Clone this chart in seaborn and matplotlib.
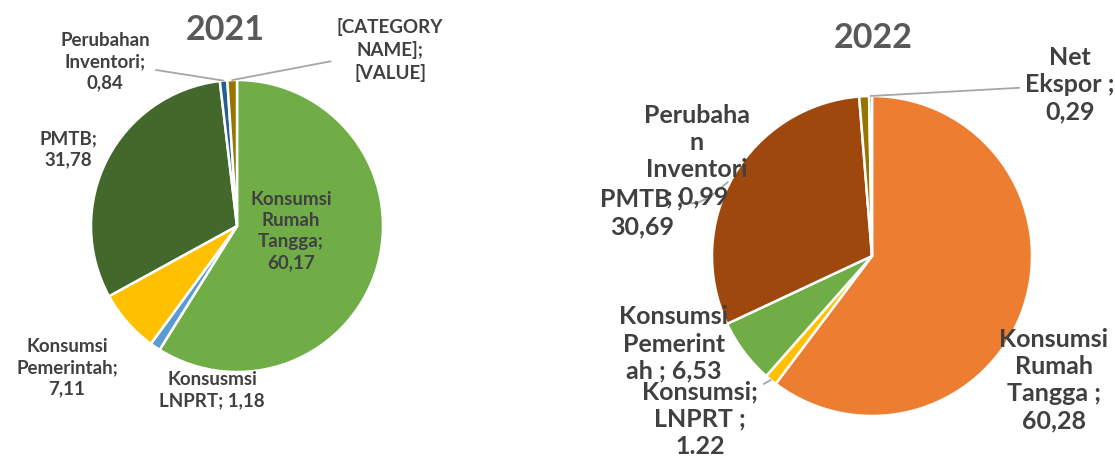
import numpy as np
import matplotlib
matplotlib.use("Agg")
import matplotlib.pyplot as plt
import seaborn as sns

# data
kategori = ["Konsumsi Rumah Tangga", "Konsumsi LNPRT", "Konsumsi Pemerintah",
            "PMTB", "Perubahan Inventori", "Net Ekspor"]
nilai_2021 = [60.17, 1.18, 7.11, 31.78, 0.84, 1.08]
nilai_2022 = [60.28, 1.22, 6.53, 30.69, 0.99, 0.29]

label_2021 = ["Konsumsi\nRumah\nTangga;\n60,17", "Konsusmsi\nLNPRT; 1,18",
              "Konsumsi\nPemerintah;\n7,11", "PMTB;\n31,78",
              "Perubahan\nInventori;\n0,84", "[CATEGORY\nNAME];\n[VALUE]"]
label_2022 = ["Konsumsi\nRumah\nTangga ;\n60,28", "Konsumsi;\nLNPRT ;\n1.22",
              "Konsumsi\nPemerint\nah ; 6,53", "PMTB ;\n30,69",
              "Perubaha\nn\nInventori\n; 0,99", "Net\nEkspor ;\n0,29"]

warna_2021 = ["#70AD47", "#5B9BD5", "#FFC000", "#43682B", "#255E91", "#997300"]
warna_2022 = ["#ED7D31", "#FFC000", "#70AD47", "#9E480E", "#997300", "#43682B"]

sns.set_theme(style="white")
plt.rcParams["font.family"] = ["Lato", "DejaVu Sans"]

W, H = 1115, 458
fig = plt.figure(figsize=(W / 100, H / 100), dpi=100)
ax = fig.add_axes([0, 0, 1, 1])

TEXT = "#404040"
LEADER = "#A6A6A6"


def draw_pie(values, colors, labels, center, radius, label_pos, leaders, fs, ls):
    wedges, _ = ax.pie(values, colors=colors, startangle=90, counterclock=False,
                       center=center, radius=radius,
                       wedgeprops=dict(edgecolor="white", linewidth=1.8))
    for i, (w, lab) in enumerate(zip(wedges, labels)):
        tx, ty = label_pos[i]
        if i in leaders:
            ang = np.deg2rad((w.theta1 + w.theta2) / 2)
            px = center[0] + radius * np.cos(ang)
            py = center[1] + radius * np.sin(ang)
            ax.annotate(lab, xy=(px, py), xytext=(tx, H - ty), ha="center", va="center",
                        fontsize=fs, fontweight="bold", color=TEXT, linespacing=ls,
                        arrowprops=dict(arrowstyle="-", color=LEADER, lw=1.3,
                                        shrinkA=2, shrinkB=0))
        else:
            ax.text(tx, H - ty, lab, ha="center", va="center", fontsize=fs,
                    fontweight="bold", color=TEXT, linespacing=ls)


# 2021
draw_pie(nilai_2021, warna_2021, label_2021, center=(237, H - 226), radius=146,
         label_pos=[(291, 231), (212, 390), (67, 368), (68, 149), (105, 62), (390, 50)],
         leaders={4, 5}, fs=13.5, ls=1.3)
ax.text(225, H - 30, "2021", ha="center", va="center", fontsize=24.5,
        fontweight="bold", color="#595959")

# 2022
draw_pie(nilai_2022, warna_2022, label_2022, center=(872, H - 256), radius=160,
         label_pos=[(1054, 380), (700, 419), (674, 344), (642, 213), (697, 156), (1070, 85)],
         leaders={1, 5}, fs=18, ls=1.22)
ax.text(873, H - 38, "2022", ha="center", va="center", fontsize=24.5,
        fontweight="bold", color="#595959")
# stray leader of the inventori label
ax.plot([680, 697, 710, 728], [H - 203, H - 203, H - 197, H - 182],
        color=LEADER, lw=1.3, zorder=0)

ax.set_xlim(0, W)
ax.set_ylim(0, H)
ax.set_aspect("equal")
ax.axis("off")

fig.savefig("out.png", dpi=100)
